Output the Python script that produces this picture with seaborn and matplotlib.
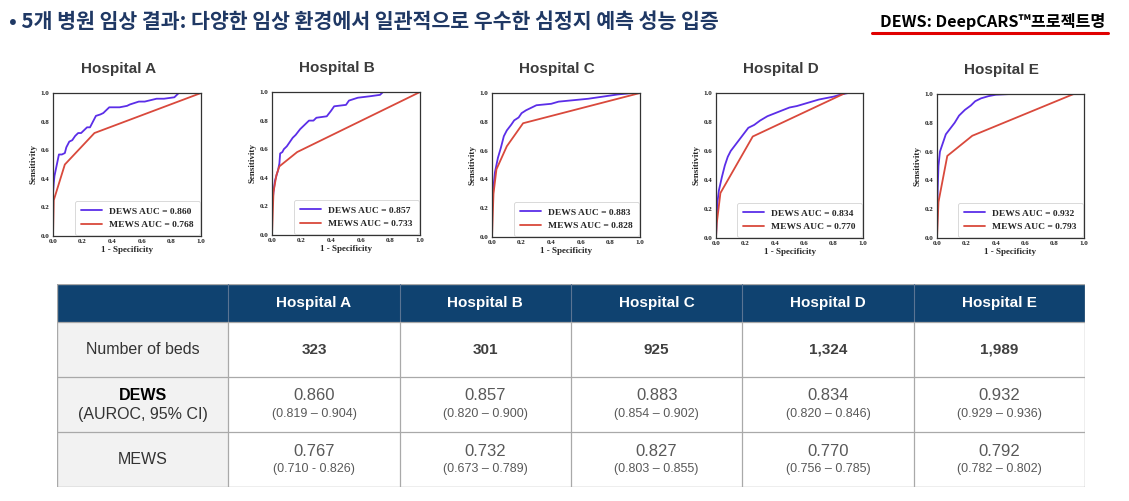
import matplotlib.pyplot as plt
import numpy as np
import seaborn as sns
import pandas as pd
from matplotlib.patches import Rectangle
from matplotlib.lines import Line2D

sns.set_style("white")
plt.rcParams['font.family'] = ['Liberation Sans', 'Noto Sans CJK KR', 'DejaVu Sans']

# ---- ROC 데이터 ----
hospitals = ["Hospital A", "Hospital B", "Hospital C", "Hospital D", "Hospital E"]
dews_auc = [0.860, 0.857, 0.883, 0.834, 0.932]
mews_auc = [0.768, 0.733, 0.828, 0.770, 0.793]

dews_a_fpr = [0, 0.0, 0.005, 0.01, 0.02, 0.03, 0.04, 0.06, 0.08, 0.09, 0.11, 0.13, 0.15, 0.17, 0.19, 0.21,
              0.23, 0.25, 0.27, 0.29, 0.32, 0.34, 0.36, 0.38, 0.45, 0.50, 0.52, 0.58, 0.62, 0.70, 0.75, 0.82,
              0.84, 0.85, 1.0]
dews_a_tpr = [0, 0.30, 0.37, 0.42, 0.47, 0.52, 0.57, 0.57, 0.58, 0.62, 0.66, 0.67, 0.70, 0.72, 0.72, 0.74,
              0.76, 0.76, 0.80, 0.84, 0.85, 0.86, 0.88, 0.90, 0.90, 0.91, 0.92, 0.94, 0.94, 0.96, 0.96, 0.97,
              0.99, 1.0, 1.0]
mews_a_fpr = [0, 0.005, 0.08, 0.28, 1.0]
mews_a_tpr = [0, 0.25, 0.50, 0.72, 1.0]

dews_b_fpr = [0, 0.0, 0.01, 0.02, 0.04, 0.05, 0.055, 0.07, 0.08, 0.10, 0.12, 0.14, 0.16, 0.19, 0.22, 0.25,
              0.28, 0.30, 0.37, 0.40, 0.42, 0.50, 0.52, 0.58, 0.66, 0.73, 0.75, 1.0]
dews_b_tpr = [0, 0.20, 0.30, 0.38, 0.45, 0.50, 0.57, 0.58, 0.60, 0.62, 0.65, 0.68, 0.70, 0.74, 0.77, 0.80,
              0.80, 0.82, 0.83, 0.87, 0.90, 0.91, 0.94, 0.96, 0.97, 0.98, 1.0, 1.0]
mews_b_fpr = [0, 0.01, 0.03, 0.05, 0.17, 1.0]
mews_b_tpr = [0, 0.30, 0.42, 0.48, 0.58, 1.0]

dews_c_fpr = [0, 0.0, 0.01, 0.02, 0.04, 0.06, 0.08, 0.10, 0.13, 0.15, 0.18, 0.20, 0.23, 0.27, 0.30, 0.35,
              0.40, 0.45, 0.55, 0.65, 0.75, 0.85, 0.95, 1.0]
dews_c_tpr = [0, 0.20, 0.35, 0.45, 0.55, 0.62, 0.70, 0.74, 0.78, 0.81, 0.83, 0.86, 0.88, 0.90, 0.915, 0.92,
              0.925, 0.94, 0.95, 0.96, 0.975, 0.99, 1.0, 1.0]
mews_c_fpr = [0, 0.01, 0.03, 0.10, 0.21, 1.0]
mews_c_tpr = [0, 0.30, 0.47, 0.63, 0.79, 1.0]

dews_d_fpr = [0, 0.005, 0.01, 0.02, 0.04, 0.06, 0.08, 0.10, 0.13, 0.16, 0.19, 0.22, 0.26, 0.30, 0.35, 0.40,
              0.45, 0.50, 0.55, 0.60, 0.65, 0.70, 0.75, 0.80, 0.85, 0.90, 1.0]
dews_d_tpr = [0, 0.15, 0.25, 0.33, 0.42, 0.50, 0.56, 0.60, 0.64, 0.68, 0.72, 0.76, 0.78, 0.81, 0.84, 0.86,
              0.88, 0.90, 0.91, 0.925, 0.94, 0.955, 0.965, 0.975, 0.99, 1.0, 1.0]
mews_d_fpr = [0, 0.005, 0.03, 0.25, 0.88, 1.0]
mews_d_tpr = [0, 0.10, 0.31, 0.70, 1.0, 1.0]

dews_e_fpr = [0, 0.002, 0.005, 0.01, 0.02, 0.04, 0.06, 0.09, 0.12, 0.15, 0.19, 0.23, 0.26, 0.30, 0.35, 0.40,
              0.50, 1.0]
dews_e_tpr = [0, 0.20, 0.35, 0.50, 0.60, 0.66, 0.72, 0.76, 0.80, 0.85, 0.89, 0.92, 0.95, 0.97, 0.985, 0.995,
              1.0, 1.0]
mews_e_fpr = [0, 0.01, 0.07, 0.24, 0.93, 1.0]
mews_e_tpr = [0, 0.25, 0.57, 0.71, 1.0, 1.0]

dews_curves = [(dews_a_fpr, dews_a_tpr), (dews_b_fpr, dews_b_tpr), (dews_c_fpr, dews_c_tpr),
               (dews_d_fpr, dews_d_tpr), (dews_e_fpr, dews_e_tpr)]
mews_curves = [(mews_a_fpr, mews_a_tpr), (mews_b_fpr, mews_b_tpr), (mews_c_fpr, mews_c_tpr),
               (mews_d_fpr, mews_d_tpr), (mews_e_fpr, mews_e_tpr)]

# ---- 표 데이터 ----
row_names = ["Number of beds", "DEWS", "MEWS"]
beds = ["323", "301", "925", "1,324", "1,989"]
dews_auroc = ["0.860", "0.857", "0.883", "0.834", "0.932"]
dews_ci = ["(0.819 – 0.904)", "(0.820 – 0.900)", "(0.854 – 0.902)", "(0.820 – 0.846)", "(0.929 – 0.936)"]
mews_auroc = ["0.767", "0.732", "0.827", "0.770", "0.792"]
mews_ci = ["(0.710 - 0.826)", "(0.673 – 0.789)", "(0.803 – 0.855)", "(0.756 – 0.785)", "(0.782 – 0.802)"]

DEWS_C = '#5b2ee8'
MEWS_C = '#d9493c'
W, H = 1129, 501

fig = plt.figure(figsize=(W / 100, H / 100), dpi=100)

# 제목
fig.text(9 / W, 1 - 22 / H, "• 5개 병원 임상 결과: 다양한 임상 환경에서 일관적으로 우수한 심정지 예측 성능 입증",
         family=['Noto Sans CJK KR', 'DejaVu Sans'], fontsize=14.8, fontweight='bold', color='#1f3864',
         va='center', ha='left')
fig.text(1105 / W, 1 - 21 / H, "DEWS: DeepCARS™프로젝트명", family=['Noto Sans CJK KR', 'DejaVu Sans'],
         fontsize=11.7, fontweight='bold', color='black', va='center', ha='right')
fig.add_artist(Line2D([872 / W, 1108 / W], [1 - 33 / H, 1 - 33 / H], color='#e00000', lw=2.2))

# ROC 패널 위치 (px: left, right, top, bottom)
boxes = [(53, 201, 93, 236), (272, 420, 92, 235), (492, 640, 93, 237), (716, 863, 93, 238), (937, 1084, 94, 238)]
serif = dict(family='Liberation Serif', weight='bold')

for i, (l, r, t, b) in enumerate(boxes):
    ax = fig.add_axes([l / W, 1 - b / H, (r - l) / W, (b - t) / H])
    df_d = pd.DataFrame({'fpr': dews_curves[i][0], 'tpr': dews_curves[i][1]})
    df_m = pd.DataFrame({'fpr': mews_curves[i][0], 'tpr': mews_curves[i][1]})
    sns.lineplot(data=df_d, x='fpr', y='tpr', ax=ax, color=DEWS_C, lw=1.3, sort=False, estimator=None,
                 label=f"DEWS AUC = {dews_auc[i]:.3f}")
    sns.lineplot(data=df_m, x='fpr', y='tpr', ax=ax, color=MEWS_C, lw=1.3, sort=False, estimator=None,
                 label=f"MEWS AUC = {mews_auc[i]:.3f}")
    ax.set_xlim(0, 1)
    ax.set_ylim(0, 1)
    ax.set_xticks(np.arange(0, 1.01, 0.2))
    ax.set_yticks(np.arange(0, 1.01, 0.2))
    ax.set_xticklabels([f"{v:.1f}" for v in np.arange(0, 1.01, 0.2)], fontdict=dict(size=5, **serif))
    ax.set_yticklabels([f"{v:.1f}" for v in np.arange(0, 1.01, 0.2)], fontdict=dict(size=5, **serif))
    ax.tick_params(length=1.5, width=0.6, pad=1, colors='#222222')
    ax.set_xlabel("1 - Specificity", fontdict=dict(size=6.5, **serif), labelpad=1)
    ax.set_ylabel("Sensitivity", fontdict=dict(size=6.5, **serif), labelpad=2)
    for s in ax.spines.values():
        s.set_color('#333333')
        s.set_linewidth(0.9)
    leg = ax.legend(loc='lower right', prop=dict(size=6.8, **serif), frameon=True, borderaxespad=0.15,
                    handlelength=2.2, labelspacing=0.5, borderpad=0.6)
    leg.get_frame().set_edgecolor('#c8c8c8')
    leg.get_frame().set_linewidth(0.6)
    ax.text(0.44, 1 + 24 / (b - t), hospitals[i], transform=ax.transAxes, ha='center', va='center',
            fontsize=11, fontweight='bold', color='#3c3c3c')

# ---- 표 ----
tl, tr, tt, tb = 57, 1085, 284, 487
tab = fig.add_axes([tl / W, 1 - tb / H, (tr - tl) / W, (tb - tt) / H])
tab.set_xlim(0, 6)
tab.set_ylim(tb - tt, 0)
tab.axis('off')
rows = [0, 38, 93, 148, 203]
NAVY = '#0f4270'
GRID = '#a9a9a9'
TXT = '#404040'
VAL = '#595959'

tab.add_patch(Rectangle((0, 0), 6, rows[1], color=NAVY, lw=0))
tab.add_patch(Rectangle((0, rows[1]), 1, rows[4] - rows[1], color='#f2f2f2', lw=0))
for k in range(1, 6):
    tab.plot([k, k], [0, rows[1]], color='#5a7493', lw=0.8)
    tab.plot([k, k], [rows[1], rows[4]], color=GRID, lw=0.9)
for yy in rows[1:4]:
    tab.plot([0, 6], [yy, yy], color=GRID, lw=0.9)
tab.add_patch(Rectangle((0, 0), 6, rows[4], fill=False, edgecolor=GRID, lw=1.0))

for j, h in enumerate(hospitals):
    cx = j + 1.5
    tab.text(cx, 19, h, ha='center', va='center', fontsize=11, fontweight='bold', color='white')
    tab.text(cx, 66, beds[j], ha='center', va='center', fontsize=11, fontweight='bold', color=TXT)
    tab.text(cx, 112, dews_auroc[j], ha='center', va='center', fontsize=12, color=VAL)
    tab.text(cx, 130, dews_ci[j], ha='center', va='center', fontsize=9, color=VAL)
    tab.text(cx, 167, mews_auroc[j], ha='center', va='center', fontsize=12, color=VAL)
    tab.text(cx, 185, mews_ci[j], ha='center', va='center', fontsize=9, color=VAL)

tab.text(0.5, 66, row_names[0], ha='center', va='center', fontsize=11.5, color='#333333')
tab.text(0.5, 111, row_names[1], ha='center', va='center', fontsize=11.5, fontweight='bold', color='black')
tab.text(0.5, 130, "(AUROC, 95% CI)", ha='center', va='center', fontsize=11.5, color='#333333')
tab.text(0.5, 175, row_names[2], ha='center', va='center', fontsize=11.5, color='#333333')

fig.savefig("out.png", dpi=100)
